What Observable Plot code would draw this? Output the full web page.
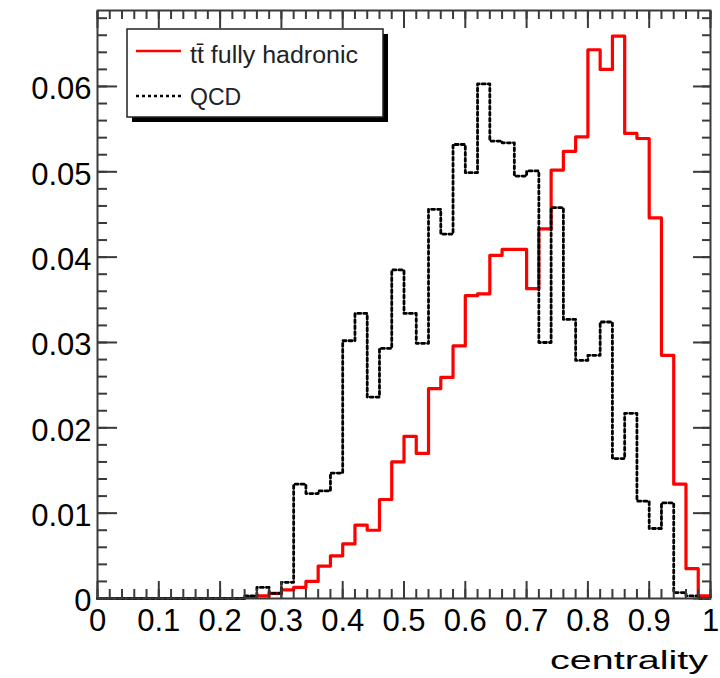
<!DOCTYPE html>
<html><head><meta charset="utf-8">
<script src="https://cdn.jsdelivr.net/npm/d3@7"></script>
<script src="https://cdn.jsdelivr.net/npm/@observablehq/plot@0.6"></script>
<style>body{margin:0;background:#fff;} #chart{width:720px;height:678px;}</style>
</head><body><div id="chart"></div>
<script>
// 50 bins of width 0.02 on [0, 1]
const binEdges = d3.range(0, 51).map(i => i / 50);
const ttbarFullyHadronic = [
  0, 0, 0, 0, 0, 0, 0, 0, 0, 0,
  0, 0, 0.0002, 0.0003, 0.0006, 0.0010, 0.0013, 0.0020, 0.0038, 0.0050,
  0.0064, 0.0086, 0.0080, 0.0116, 0.0160, 0.0190, 0.0170, 0.0246, 0.0259, 0.0296,
  0.0355, 0.0357, 0.0402, 0.0409, 0.0409, 0.0363, 0.0433, 0.0502, 0.0524, 0.0541,
  0.0643, 0.0620, 0.0659, 0.0545, 0.0539, 0.0446, 0.0285, 0.0134, 0.0035, 0.0003
];
const qcd = [
  0, 0, 0, 0, 0, 0, 0, 0, 0, 0,
  0, 0, 0.0003, 0.0013, 0.0006, 0.0019, 0.0134, 0.0123, 0.0126, 0.0147,
  0.0302, 0.0334, 0.0236, 0.0293, 0.0385, 0.0334, 0.0299, 0.0456, 0.0427, 0.0532,
  0.0499, 0.0603, 0.0536, 0.0534, 0.0495, 0.0501, 0.0300, 0.0458, 0.0327, 0.0279,
  0.0285, 0.0324, 0.0164, 0.0217, 0.0114, 0.0082, 0.0112, 0.0007, 0.0003, 0
];
const seriesNames = ["tt\u0304 fully hadronic", "QCD"];
const xTicks = [0, 0.1, 0.2, 0.3, 0.4, 0.5, 0.6, 0.7, 0.8, 0.9, 1];
const xTickLabels = ["0", "0.1", "0.2", "0.3", "0.4", "0.5", "0.6", "0.7", "0.8", "0.9", "1"];
const xMinorTicks = d3.range(0, 51).map(i => i / 50);
const yTicks = [0, 0.01, 0.02, 0.03, 0.04, 0.05, 0.06];
const yTickLabels = ["0", "0.01", "0.02", "0.03", "0.04", "0.05", "0.06"];
const yMinorTicks = d3.range(0, 35).map(i => i * 0.002);
const xTitle = "centrality";

const stepPoints = vals => binEdges.map((x, i) => ({x, y: vals[Math.min(i, vals.length - 1)]}));

const axisColor = "#3a3a3a";
const plot = Plot.plot({
  width: 720, height: 678,
  marginLeft: 97, marginRight: 10, marginTop: 10, marginBottom: 80,
  style: {fontFamily: "'Liberation Sans', Arial, sans-serif", background: "white", color: "#000", overflow: "visible"},
  x: {domain: [0, 1], label: null},
  y: {domain: [0, 0.0689], label: null},
  marks: [
    Plot.line(stepPoints(ttbarFullyHadronic), {x: "x", y: "y", curve: "step-after", stroke: "#ff0000", strokeWidth: 3.2}),
    Plot.line(stepPoints(qcd), {x: "x", y: "y", curve: "step-after", stroke: "#000", strokeWidth: 2.8, strokeDasharray: "3,3"}),
    Plot.frame({stroke: axisColor, strokeWidth: 2}),
    // inward ticks, bottom
    Plot.axisX({ticks: xTicks, anchor: "bottom", tickSize: 17, dy: -17, fill: "none", stroke: axisColor, strokeWidth: 2, label: null}),
    Plot.axisX({ticks: xMinorTicks, anchor: "bottom", tickSize: 9, dy: -9, fill: "none", stroke: axisColor, strokeWidth: 2, label: null}),
    // top
    Plot.axisX({ticks: xTicks, anchor: "top", tickSize: 17, dy: 17, fill: "none", stroke: axisColor, strokeWidth: 2, label: null}),
    Plot.axisX({ticks: xMinorTicks, anchor: "top", tickSize: 8, dy: 8, fill: "none", stroke: axisColor, strokeWidth: 2, label: null}),
    // left
    Plot.axisY({ticks: yTicks, anchor: "left", tickSize: 20, dx: 20, fill: "none", stroke: axisColor, strokeWidth: 2, label: null}),
    Plot.axisY({ticks: yMinorTicks, anchor: "left", tickSize: 10, dx: 10, fill: "none", stroke: axisColor, strokeWidth: 2, label: null}),
    // right
    Plot.axisY({ticks: yTicks, anchor: "right", tickSize: 18, dx: -18, fill: "none", stroke: axisColor, strokeWidth: 2, label: null}),
    Plot.axisY({ticks: yMinorTicks, anchor: "right", tickSize: 9, dx: -9, fill: "none", stroke: axisColor, strokeWidth: 2, label: null}),
    // tick labels
    Plot.axisX({ticks: xTicks, anchor: "bottom", tickSize: 0, tickPadding: 10, fontSize: 31, fill: "#000",
      tickFormat: d => xTickLabels[xTicks.indexOf(d)], label: null}),
    Plot.axisY({ticks: yTicks, anchor: "left", tickSize: 0, tickPadding: 6, dy: 3, fontSize: 31, fill: "#000",
      tickFormat: d => yTickLabels[yTicks.indexOf(d)], label: null})
  ]
});
document.getElementById("chart").appendChild(plot);

const svg = d3.select(plot);
// x-axis title
svg.append("text")
  .attr("x", 708).attr("y", 669)
  .attr("text-anchor", "end")
  .attr("font-size", 26)
  .attr("textLength", 158).attr("lengthAdjust", "spacingAndGlyphs")
  .attr("fill", "#000")
  .text(xTitle);

// legend
const lg = svg.append("g").attr("text-anchor", "start");
lg.append("rect").attr("x", 132).attr("y", 34).attr("width", 256).attr("height", 88).attr("fill", "#000");
lg.append("rect").attr("x", 127).attr("y", 29).attr("width", 256).attr("height", 88)
  .attr("fill", "#fff").attr("stroke", "#222").attr("stroke-width", 1.5);
lg.append("line").attr("x1", 136).attr("x2", 181).attr("y1", 51).attr("y2", 51)
  .attr("stroke", "#ff0000").attr("stroke-width", 2.5);
lg.append("text").attr("x", 190).attr("y", 63).attr("font-size", 23).attr("text-anchor", "start")
  .attr("textLength", 168).attr("lengthAdjust", "spacingAndGlyphs").attr("fill", "#222")
  .text(seriesNames[0]);
lg.append("line").attr("x1", 136).attr("x2", 181).attr("y1", 96).attr("y2", 96)
  .attr("stroke", "#000").attr("stroke-width", 2.5).attr("stroke-dasharray", "3,3");
lg.append("text").attr("x", 190).attr("y", 105).attr("font-size", 23).attr("text-anchor", "start").attr("fill", "#222")
  .text(seriesNames[1]);
</script>
</body></html>
